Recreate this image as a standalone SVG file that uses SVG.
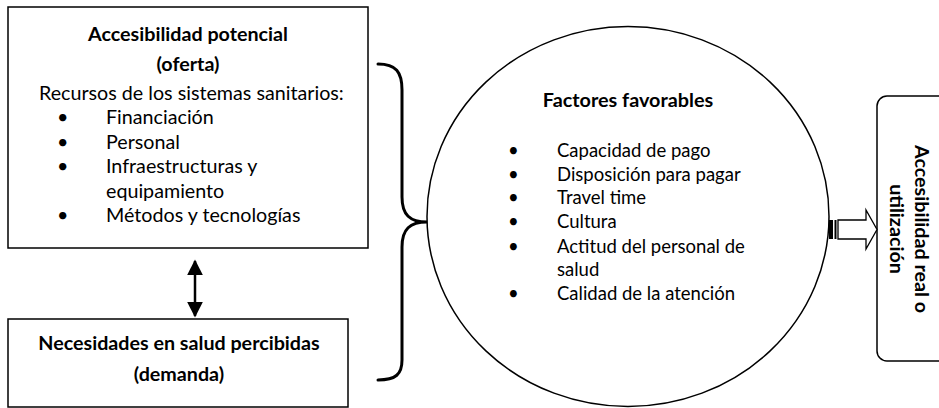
<svg xmlns="http://www.w3.org/2000/svg" width="939" height="408" viewBox="0 0 939 408">
<style>
.box{fill:#fff;stroke:#000;stroke-width:1.5}
.t{font-family:Lato,"Open Sans","Liberation Sans",sans-serif;font-size:19.7px;fill:#000}
.s{font-size:18.5px}
.h{font-size:19.8px}
.b{font-weight:bold}
.m{text-anchor:middle}
.brace{fill:none;stroke:#000;stroke-width:3;stroke-linecap:round}
</style>
<defs>
<marker id="ah" viewBox="0 0 10 10" refX="9" refY="5" markerWidth="6.4" markerHeight="6.4" orient="auto-start-reverse" markerUnits="strokeWidth">
<path d="M0,0 L10,5 L0,10 Z" fill="#000"/>
</marker>
</defs>
<g id="oferta">
<rect class="box" x="8" y="7" width="360" height="241"/>
<text class="t b m" x="188" y="41">Accesibilidad potencial</text>
<text class="t b m" x="188" y="71">(oferta)</text>
<text class="t" x="39" y="100">Recursos de los sistemas sanitarios:</text>
<g class="t">
<text x="57" y="124">•</text><text x="106" y="124">Financiación</text>
<text x="57" y="148.5">•</text><text x="106" y="148.5">Personal</text>
<text x="57" y="173">•</text><text x="106" y="173">Infraestructuras y</text>
<text x="106" y="197.5">equipamiento</text>
<text x="57" y="222">•</text><text x="106" y="222">Métodos y tecnologías</text>
</g>
</g>
<g id="demanda">
<rect class="box" x="8" y="319" width="340" height="88"/>
<text class="t b m" x="179" y="350">Necesidades en salud percibidas</text>
<text class="t b m" x="179" y="381">(demanda)</text>
</g>
<g id="factores">
<ellipse cx="628" cy="216.5" rx="201" ry="190" fill="#fff" stroke="#000" stroke-width="1.5"/>
<text class="t h b m" x="628" y="107">Factores favorables</text>
<g class="t s">
<text x="508" y="157">•</text><text x="557" y="157">Capacidad de pago</text>
<text x="508" y="181">•</text><text x="557" y="181">Disposición para pagar</text>
<text x="508" y="204">•</text><text x="557" y="204">Travel time</text>
<text x="508" y="228">•</text><text x="557" y="228">Cultura</text>
<text x="508" y="253">•</text><text x="557" y="253">Actitud del personal de</text>
<text x="557" y="276">salud</text>
<text x="508" y="300">•</text><text x="557" y="300">Calidad de la atención</text>
</g>
</g>
<g id="real">
<rect class="box" x="877" y="96" width="90" height="265" rx="10" ry="10"/>
<text class="t b m" transform="translate(915,229) rotate(90)">Accesibilidad real o</text>
<text class="t b m" transform="translate(890,229) rotate(90)">utilización</text>
</g>
<g id="connectors">
<path class="brace" d="M378,64 C396,64 402,72 402,90 L402,197 C402,215 410,222 427,222 C410,222 402,229 402,247 L402,360 C402,374 396,380 378,380"/>
<line x1="195" y1="261" x2="195" y2="316" stroke="#000" stroke-width="2.5" marker-start="url(#ah)" marker-end="url(#ah)"/>
<path d="M838,220 L866,220 L866,210 L877,229.5 L866,249 L866,239 L838,239 Z" fill="#fff" stroke="#000" stroke-width="1.3"/>
<rect x="829" y="220" width="4" height="19" fill="#000"/>
<rect x="834.5" y="220" width="2" height="19" fill="#000"/>
</g>
</svg>
